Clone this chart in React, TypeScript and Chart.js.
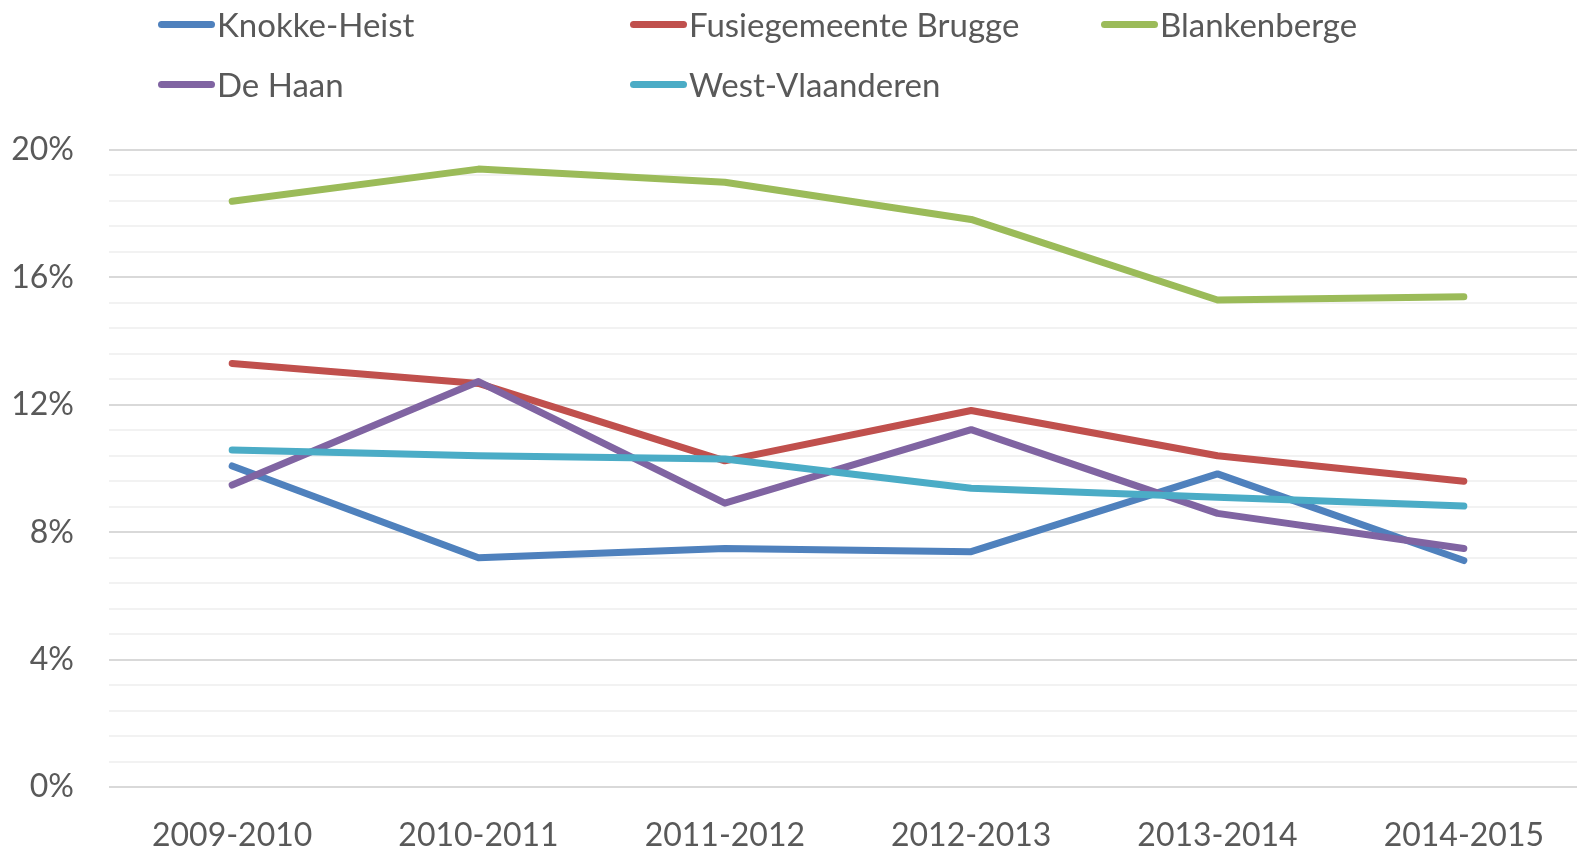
import React, { useEffect, useRef } from "react";
import { Chart, registerables } from "chart.js";

Chart.register(...registerables);

const categories = ["2009-2010", "2010-2011", "2011-2012", "2012-2013", "2013-2014", "2014-2015"];
const knokkeHeist = [10.08, 7.2, 7.49, 7.39, 9.83, 7.11];
const brugge = [13.3, 12.67, 10.24, 11.82, 10.4, 9.6];
const blankenberge = [18.39, 19.4, 18.99, 17.82, 15.29, 15.39];
const deHaan = [9.48, 12.73, 8.91, 11.22, 8.59, 7.49];
const westVlaanderen = [10.58, 10.4, 10.3, 9.38, 9.1, 8.82];
const yLabels = ["0%", "4%", "8%", "12%", "16%", "20%"];

const seriesNames = ["Knokke-Heist", "Fusiegemeente Brugge", "Blankenberge", "De Haan", "West-Vlaanderen"];
const seriesColors = ["#4F81BD", "#C0504D", "#9BBB59", "#8064A2", "#4BACC6"];
const seriesData = [knokkeHeist, brugge, blankenberge, deHaan, westVlaanderen];

const FONT = "Lato, 'Open Sans', sans-serif";
const TEXT = "#595959";
const CANVAS_W = 1587;

export default function App() {
  const ref = useRef<HTMLCanvasElement | null>(null);
  useEffect(() => {
    if (!ref.current) return;
    const chart = new Chart(ref.current, {
      type: "line",
      data: {
        labels: categories,
        datasets: seriesData.map((d, i) => ({
          label: seriesNames[i],
          data: d,
          borderColor: seriesColors[i],
          backgroundColor: seriesColors[i],
          borderWidth: 7,
          pointRadius: 0,
          tension: 0,
          borderCapStyle: "round" as const,
          borderJoinStyle: "round" as const,
          order: seriesData.length - i,
        })),
      },
      options: {
        responsive: false,
        animation: false,
        layout: { padding: { top: 150, left: 0, right: 0, bottom: 0 } },
        plugins: { legend: { display: false }, tooltip: { enabled: false } },
        scales: {
          x: {
            offset: true,
            grid: { display: false, drawTicks: false },
            border: { display: false },
            ticks: { color: TEXT, font: { family: FONT, size: 32 }, padding: 29, maxRotation: 0 },
            afterFit: (s: any) => { s.height = 64; },
          },
          y: {
            min: 0,
            max: 20,
            grid: {
              drawTicks: false,
              color: (ctx: any) => {
                const v = ctx.tick ? ctx.tick.value : 0;
                const r = Math.round(v * 10) / 10;
                return Math.abs(r / 4 - Math.round(r / 4)) < 0.01 ? "#D9D9D9" : "#F2F2F2";
              },
              lineWidth: 2,
            },
            border: { display: false },
            ticks: {
              stepSize: 0.8,
              autoSkip: false,
              color: TEXT,
              font: { family: FONT, size: 32 },
              padding: 35,
              callback: (v: any) => {
                const r = Math.round(Number(v) * 10) / 10;
                if (Math.abs(r / 4 - Math.round(r / 4)) < 0.01) return yLabels[Math.round(r / 4)];
                return "";
              },
            },
            afterFit: (s: any) => { s.width = 109; },
          },
        },
      },
    });
    return () => chart.destroy();
  }, []);

  const cols = [158, 630, 1101];
  const rows = [24, 84];
  return (
    <div style={{ position: "fixed", left: 0, top: 0, width: 1577, height: 851, background: "#fff", overflow: "hidden" }}>
      <canvas ref={ref} width={CANVAS_W} height={851} style={{ position: "absolute", left: 0, top: 0 }} />
      {seriesNames.map((n, i) => (
        <div
          key={n}
          style={{
            position: "absolute",
            left: cols[i % 3],
            top: rows[Math.floor(i / 3)] - 20,
            height: 40,
            display: "flex",
            alignItems: "center",
            fontFamily: FONT,
            fontSize: 33,
            color: TEXT,
            whiteSpace: "nowrap",
          }}
        >
          <span style={{ display: "inline-block", width: 57, height: 7, borderRadius: 4, background: seriesColors[i], marginRight: 2 }} />
          <span>{n}</span>
        </div>
      ))}
    </div>
  );
}
